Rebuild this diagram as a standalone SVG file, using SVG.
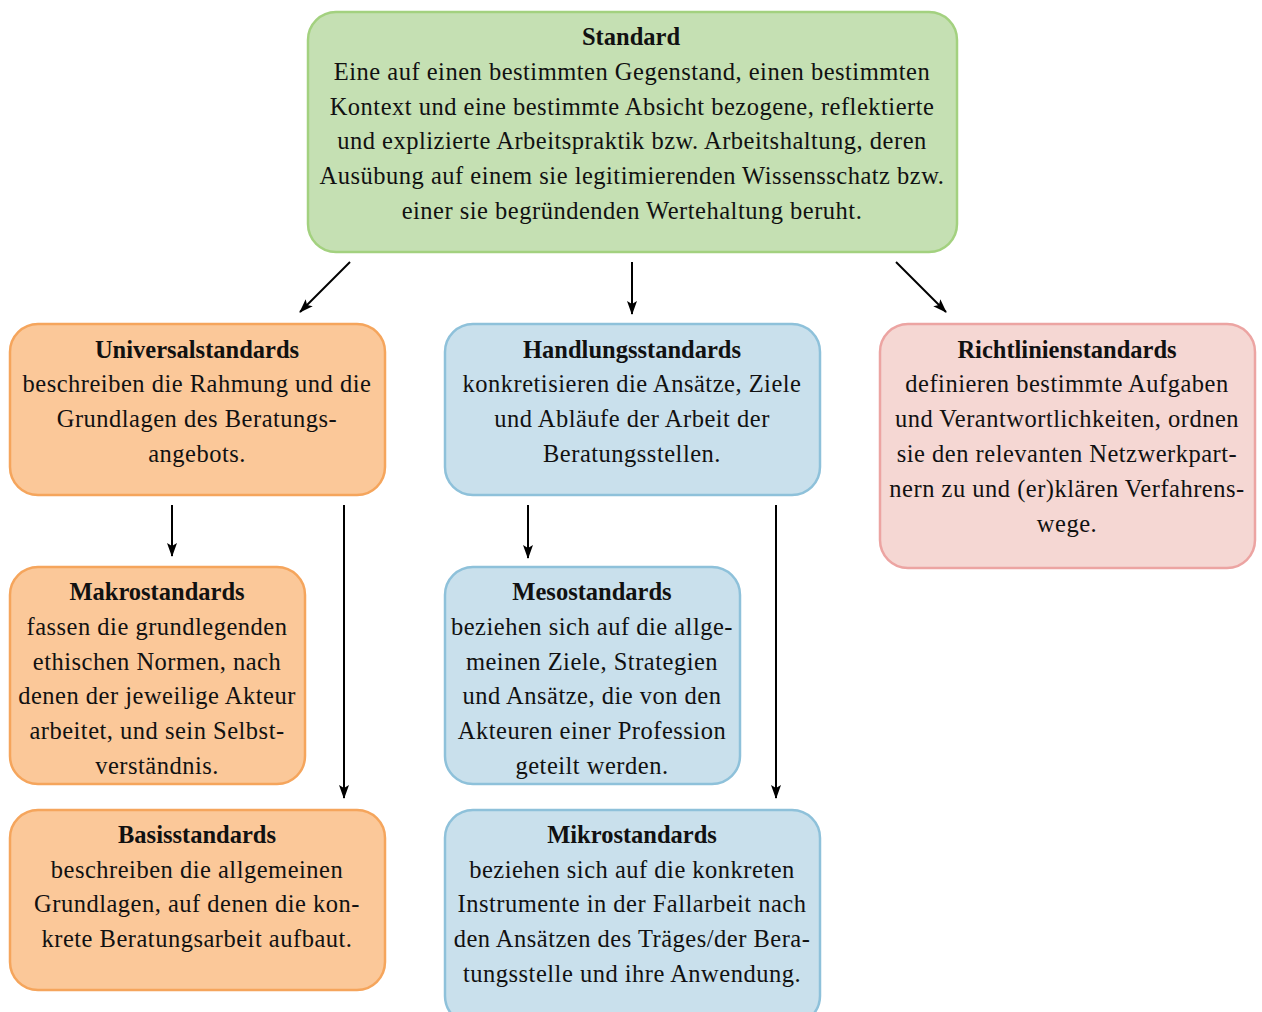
<svg xmlns="http://www.w3.org/2000/svg" width="1262" height="1012" viewBox="0 0 1262 1012">
<defs>
<style>
text{font-family:"Liberation Serif","DejaVu Serif",serif;font-size:24.5px;letter-spacing:0.5px;fill:#111;text-anchor:middle}
.t{font-weight:bold;letter-spacing:0}
.box{stroke-width:2.5}
.g{fill:#c5e0b3;stroke:#a3d17f}
.o{fill:#fbc899;stroke:#f5a55c}
.b{fill:#c9e0ec;stroke:#8ec1da}
.r{fill:#f5d7d3;stroke:#eca4a2}
.c{stroke:#000;stroke-width:2;fill:none;marker-end:url(#ah)}
</style>
<marker id="ah" viewBox="0 0 14 10" refX="13" refY="5" markerWidth="14" markerHeight="10" markerUnits="userSpaceOnUse" orient="auto">
<path d="M0,0 L14,5 L0,10 L3,5 Z" fill="#000"/>
</marker>
</defs>
<g id="connectors">
<line class="c" x1="350" y1="262" x2="300" y2="312"/>
<line class="c" x1="632" y1="262" x2="632" y2="314"/>
<line class="c" x1="896" y1="262" x2="946" y2="312"/>
<line class="c" x1="172" y1="505" x2="172" y2="556"/>
<line class="c" x1="344" y1="505" x2="344" y2="798"/>
<line class="c" x1="528" y1="505" x2="528" y2="558"/>
<line class="c" x1="776" y1="505" x2="776" y2="798"/>
</g>
<g id="standard">
<rect class="box g" x="308" y="12" width="649" height="240" rx="28"/>
<text class="t" x="631" y="45">Standard</text>
<text x="632" y="80">Eine auf einen bestimmten Gegenstand, einen bestimmten</text>
<text x="632" y="115">Kontext und eine bestimmte Absicht bezogene, reflektierte</text>
<text x="632" y="149">und explizierte Arbeitspraktik bzw. Arbeitshaltung, deren</text>
<text x="632" y="184">Ausübung auf einem sie legitimierenden Wissensschatz bzw.</text>
<text x="632" y="219">einer sie begründenden Wertehaltung beruht.</text>
</g>
<g id="universalstandards">
<rect class="box o" x="10" y="324" width="375" height="171" rx="28"/>
<text class="t" x="197" y="358">Universalstandards</text>
<text x="197" y="392">beschreiben die Rahmung und die</text>
<text x="197" y="427">Grundlagen des Beratungs-</text>
<text x="197" y="462">angebots.</text>
</g>
<g id="handlungsstandards">
<rect class="box b" x="445" y="324" width="375" height="171" rx="28"/>
<text class="t" x="632" y="358">Handlungsstandards</text>
<text x="632" y="392">konkretisieren die Ansätze, Ziele</text>
<text x="632" y="427">und Abläufe der Arbeit der</text>
<text x="632" y="462">Beratungsstellen.</text>
</g>
<g id="richtlinienstandards">
<rect class="box r" x="880" y="324" width="375" height="244" rx="28"/>
<text class="t" x="1067" y="358">Richtlinienstandards</text>
<text x="1067" y="392">definieren bestimmte Aufgaben</text>
<text x="1067" y="427">und Verantwortlichkeiten, ordnen</text>
<text x="1067" y="462">sie den relevanten Netzwerkpart-</text>
<text x="1067" y="497">nern zu und (er)klären Verfahrens-</text>
<text x="1067" y="532">wege.</text>
</g>
<g id="makrostandards">
<rect class="box o" x="10" y="567" width="295" height="217" rx="28"/>
<text class="t" x="157" y="600">Makrostandards</text>
<text x="157" y="635">fassen die grundlegenden</text>
<text x="157" y="670">ethischen Normen, nach</text>
<text x="157" y="704">denen der jeweilige Akteur</text>
<text x="157" y="739">arbeitet, und sein Selbst-</text>
<text x="157" y="774">verständnis.</text>
</g>
<g id="basisstandards">
<rect class="box o" x="10" y="810" width="375" height="180" rx="28"/>
<text class="t" x="197" y="843">Basisstandards</text>
<text x="197" y="878">beschreiben die allgemeinen</text>
<text x="197" y="912">Grundlagen, auf denen die kon-</text>
<text x="197" y="947">krete Beratungsarbeit aufbaut.</text>
</g>
<g id="mesostandards">
<rect class="box b" x="445" y="567" width="295" height="217" rx="28"/>
<text class="t" x="592" y="600">Mesostandards</text>
<text x="592" y="635">beziehen sich auf die allge-</text>
<text x="592" y="670">meinen Ziele, Strategien</text>
<text x="592" y="704">und Ansätze, die von den</text>
<text x="592" y="739">Akteuren einer Profession</text>
<text x="592" y="774">geteilt werden.</text>
</g>
<g id="mikrostandards">
<rect class="box b" x="445" y="810" width="375" height="214" rx="28"/>
<text class="t" x="632" y="843">Mikrostandards</text>
<text x="632" y="878">beziehen sich auf die konkreten</text>
<text x="632" y="912">Instrumente in der Fallarbeit nach</text>
<text x="632" y="947">den Ansätzen des Träges/der Bera-</text>
<text x="632" y="982">tungsstelle und ihre Anwendung.</text>
</g>
</svg>
